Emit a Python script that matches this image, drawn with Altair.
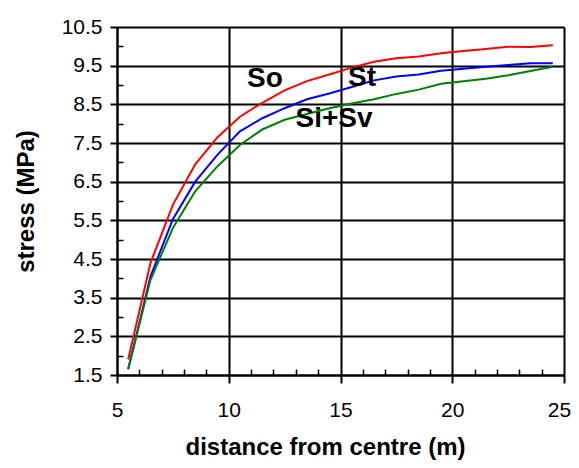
import altair as alt
import pandas as pd

# ---- data ----
distance = [5.5, 6.5, 7.5, 8.5, 9.5, 10.5, 11.5, 12.5, 13.5, 14.5,
            15.5, 16.5, 17.5, 18.5, 19.5, 20.5, 21.5, 22.5, 23.5, 24.5]
so = [1.9, 4.4, 5.9, 6.95, 7.65, 8.18, 8.54, 8.86, 9.1, 9.27,
      9.45, 9.6, 9.69, 9.74, 9.82, 9.88, 9.93, 9.99, 9.98, 10.03]
st = [1.65, 4.05, 5.53, 6.5, 7.2, 7.8, 8.14, 8.4, 8.63, 8.78,
      8.95, 9.12, 9.22, 9.27, 9.37, 9.42, 9.47, 9.52, 9.56, 9.56]
si_sv = [1.65, 3.96, 5.3, 6.25, 6.9, 7.45, 7.85, 8.1, 8.25, 8.4,
         8.52, 8.63, 8.77, 8.88, 9.03, 9.1, 9.16, 9.25, 9.36, 9.47]

series_names = ["So", "St", "Si+Sv"]
series_colors = ["#ff0000", "#0000ff", "#008000"]

x_ticks = [5, 10, 15, 20, 25]
x_minor = [6, 7, 8, 9, 11, 12, 13, 14, 16, 17, 18, 19, 21, 22, 23, 24]
y_ticks = [1.5, 2.5, 3.5, 4.5, 5.5, 6.5, 7.5, 8.5, 9.5, 10.5]
y_minor = [2, 3, 4, 5, 6, 7, 8, 9, 10]

label_text = ["So", "St", "Si+Sv"]
label_x = [11.62, 15.96, 14.71]
label_y = [9.16, 9.18, 8.12]

# ---- tables ----
rows = []
for name, vals in zip(series_names, [so, st, si_sv]):
    for d, v in zip(distance, vals):
        rows.append({"distance": d, "stress": v, "series": name})
df = pd.DataFrame(rows)
labels_df = pd.DataFrame({"text": label_text, "lx": label_x, "ly": label_y})

W, H = 447, 348
FONT = "Liberation Sans"

x_scale = alt.Scale(domain=[5, 25], nice=False, zero=False)
y_scale = alt.Scale(domain=[1.5, 10.5], nice=False, zero=False)

lines = alt.Chart(df).mark_line(strokeWidth=2).encode(
    x=alt.X("distance:Q", scale=x_scale,
            axis=alt.Axis(values=x_ticks, orient="bottom", grid=True,
                          gridColor="black", gridWidth=2, gridOpacity=1,
                          domainColor="black", domainWidth=2,
                          tickColor="black", tickWidth=2, tickSize=8,
                          labelFont=FONT, labelFontSize=21, labelColor="black",
                          labelPadding=16, labelFlush=False, labelOverlap=False,
                          labelOffset={"condition": {"test": "datum.value == 25", "value": -5},
                                       "value": 0},
                          title="distance from centre (m)",
                          titleFont=FONT, titleFontSize=24, titleFontWeight="bold",
                          titleColor="black", titleX=208, titleY=79,
                          titleAlign="center", titleBaseline="alphabetic")),
    y=alt.Y("stress:Q", scale=y_scale,
            axis=alt.Axis(values=y_ticks, orient="left", grid=True, format=".1f",
                          gridColor="black", gridWidth=2, gridOpacity=1,
                          domainColor="black", domainWidth=2,
                          tickColor="black", tickWidth=2, tickSize=7,
                          labelFont=FONT, labelFontSize=21, labelColor="black",
                          labelPadding=8, labelFlush=False, labelOverlap=False,
                          title="stress (MPa)",
                          titleFont=FONT, titleFontSize=24, titleFontWeight="bold",
                          titleColor="black", titleX=-84, titleY=H / 2,
                          titleAngle=270, titleAlign="center",
                          titleBaseline="alphabetic")),
    color=alt.Color("series:N",
                    scale=alt.Scale(domain=series_names, range=series_colors),
                    legend=None),
    detail="series:N",
)

texts = alt.Chart(labels_df).mark_text(
    font=FONT, fontSize=28, fontWeight="bold", color="black",
    align="center", baseline="middle"
).encode(
    x=alt.X("lx:Q", scale=x_scale,
            axis=alt.Axis(values=x_minor, orient="top", offset=-H, grid=False,
                          domain=False, labels=False, ticks=True, tickSize=6,
                          tickColor="black", tickWidth=1.5, title=None)),
    y=alt.Y("ly:Q", scale=y_scale,
            axis=alt.Axis(values=y_minor, orient="right", offset=-W, grid=False,
                          domain=False, labels=False, ticks=True, tickSize=6,
                          tickColor="black", tickWidth=1.5, title=None)),
    text="text:N",
)

chart = alt.layer(lines, texts).resolve_axis(
    x="independent", y="independent"
).properties(
    width=W, height=H,
    autosize=alt.AutoSizeParams(type="none"),
    padding={"left": 109, "top": 19, "right": 7, "bottom": 85},
).configure_view(stroke="black", strokeWidth=2).configure(background="white")

chart.save("out.html", embed_options={"renderer": "svg", "actions": False})
